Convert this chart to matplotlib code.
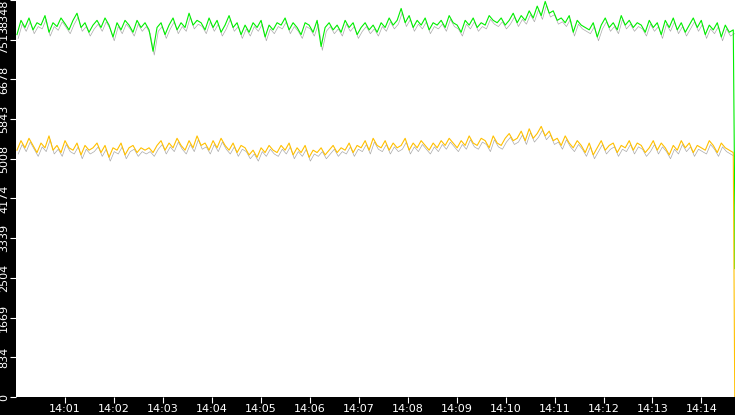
import matplotlib
matplotlib.use("Agg")
import matplotlib.pyplot as plt
import numpy as np

tick_labels = ["14:01","14:02","14:03","14:04","14:05","14:06","14:07","14:08","14:09","14:10","14:11","14:12","14:13","14:14"]
tick_minutes = [1,2,3,4,5,6,7,8,9,10,11,12,13,14]
y_ticks = [0,834,1669,2504,3339,4174,5008,5843,6678,7513,8348]

green = [7650,7950,7800,8000,7750,7900,7850,8050,7700,7900,7820,8000,7880,7750,7950,8100,7800,7900,7700,7850,
         7950,7800,8000,7850,7600,7900,7750,7950,7850,7700,7950,7800,7900,7750,7300,7800,7900,7650,7850,8000,
         7750,7900,7800,8100,7850,7950,7900,7750,8000,7800,7950,7700,7850,8050,7800,7900,7650,7850,7700,7900,
         7800,7950,7600,7850,7750,7900,7850,8000,7750,7900,7800,7650,7900,7850,7700,7950,7400,7800,7900,7750,
         7850,7700,7950,7800,7900,7650,7800,7900,7750,7850,7700,7900,7800,8000,7850,7950,8200,7900,8050,7800,
         7950,7850,8000,7750,7900,7850,7950,7800,8050,7900,7850,7700,7950,7850,8000,7800,7900,7850,8050,7950,
         7900,8000,7850,7950,8100,7900,8050,7950,8150,8000,8250,8050,8348,8100,8150,7950,8000,7900,8050,7700,
         7950,7850,7800,7750,7900,7600,7850,8000,7800,7900,7750,8050,7850,7950,7800,7900,7850,7700,7950,7800,
         7900,7650,7950,7800,8000,7750,7900,7700,7850,8000,7800,7950,7650,7850,7750,7900,7600,7850,7700,7750]

yellow = [5250,5450,5300,5500,5350,5200,5400,5300,5550,5250,5350,5200,5450,5300,5250,5400,5150,5350,5250,5300,
          5400,5200,5350,5100,5300,5250,5400,5150,5300,5350,5200,5300,5250,5300,5200,5350,5450,5250,5400,5300,
          5500,5350,5250,5450,5300,5550,5350,5400,5250,5450,5300,5500,5350,5250,5400,5200,5350,5300,5150,5250,
          5100,5300,5200,5350,5250,5200,5350,5250,5400,5150,5300,5200,5350,5100,5250,5200,5300,5150,5250,5350,
          5200,5300,5250,5400,5200,5350,5300,5450,5250,5500,5350,5300,5450,5250,5400,5300,5350,5500,5250,5400,
          5300,5450,5350,5250,5400,5300,5450,5350,5500,5400,5300,5450,5350,5550,5400,5350,5500,5450,5300,5550,
          5400,5350,5500,5600,5450,5500,5650,5450,5700,5500,5600,5750,5550,5650,5450,5500,5350,5550,5400,5300,
          5450,5350,5200,5400,5150,5300,5450,5250,5350,5400,5200,5350,5300,5450,5250,5400,5350,5200,5300,5450,
          5250,5400,5300,5150,5350,5250,5450,5300,5400,5200,5350,5300,5250,5450,5350,5200,5400,5300,5250,5200]

green_end = [4000, 2700]
yellow_end = [0]

start_min = 0.02
end_min = 14.68
n = len(green)
x = np.linspace(start_min, end_min - 0.03, n)

fig = plt.figure(figsize=(7.35, 4.15), dpi=100, facecolor="black")
ax = fig.add_axes([16/735, 18/415, 719/735, 397/415])
ax.set_facecolor("white")

g = np.array(green) - 30
yv = np.array(yellow) - 60
ax.plot(x + 0.025, g - 80, color="#aaaaaa", lw=0.5)
ax.plot(x + 0.025, yv - 80, color="#aaaaaa", lw=0.5)

ax.plot(np.append(x, [end_min, end_min]), list(g) + green_end, color="#00ee00", lw=0.8)
ax.plot(np.append(x, [end_min]), list(yv) + yellow_end, color="#ffc000", lw=0.8)

ax.set_xlim(0, end_min + 0.005)
ax.set_ylim(0, 8348)
ax.set_xticks(tick_minutes)
ax.set_xticklabels(tick_labels)
ax.set_yticks(y_ticks)
labels = ax.set_yticklabels([str(v) for v in y_ticks], rotation=90, va="center")
labels[-1].set_va("top")
ax.tick_params(colors="white", labelsize=8, length=4, direction="out", pad=1)
for s in ax.spines.values():
    s.set_visible(False)

fig.savefig("out.png", dpi=100, facecolor="black")
